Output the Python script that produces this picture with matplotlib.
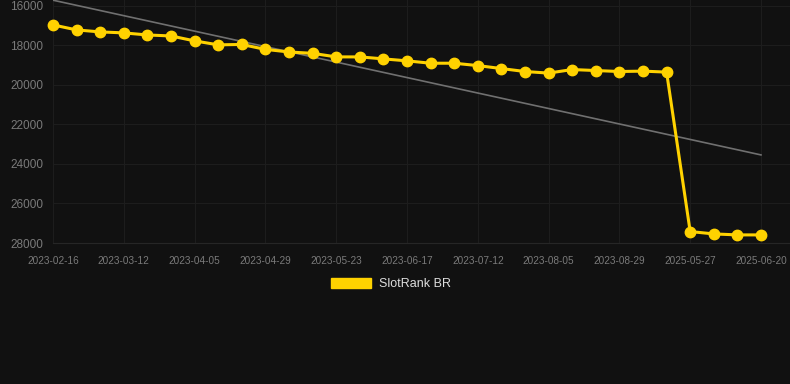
import numpy as np
from matplotlib import pyplot as plt
from matplotlib.patches import Patch

dates = ["2023-02-16", "2023-02-24", "2023-03-04", "2023-03-12", "2023-03-20", "2023-03-28",
         "2023-04-05", "2023-04-13", "2023-04-21", "2023-04-29", "2023-05-07", "2023-05-15",
         "2023-05-23", "2023-05-31", "2023-06-09", "2023-06-17", "2023-06-25", "2023-07-03",
         "2023-07-12", "2023-07-20", "2023-07-28", "2023-08-05", "2023-08-13", "2023-08-21",
         "2023-08-29", "2023-09-06", "2023-09-14", "2025-05-27", "2025-06-04", "2025-06-12",
         "2025-06-20"]
rank = [16960, 17215, 17315, 17365, 17470, 17520, 17770, 17970, 17950, 18200, 18330, 18400,
        18580, 18580, 18680, 18780, 18900, 18900, 19020, 19170, 19320, 19400, 19220, 19270,
        19320, 19300, 19350, 27420, 27540, 27590, 27590]
y_ticks = [16000, 18000, 20000, 22000, 24000, 26000, 28000]

bg = "#111111"
gold = "#FFD200"

plt.rcParams["font.family"] = ["Liberation Sans", "DejaVu Sans"]

fig = plt.figure(figsize=(7.9, 3.84), dpi=100, facecolor=bg)
ax = fig.add_axes([53 / 790, 1 - 243 / 384, 1 - 53 / 790, 243 / 384])
ax.set_facecolor(bg)

x = np.arange(len(rank))
# trend line (linear fit)
k, b = np.polyfit(x, rank, 1)
ax.plot(x, k * x + b, color="#707070", lw=1.2, zorder=2)
ax.plot(x, rank, color=gold, lw=2.2, marker="o", markersize=7.5, zorder=3, clip_on=False)

ax.set_xlim(0, 31.23)
ax.set_ylim(28000, 15700)
ax.set_yticks(y_ticks)
ax.set_xticks(x[::3])
ax.set_xticklabels(dates[::3])
ax.tick_params(colors="#7a7a7a", length=0)
ax.tick_params(axis="y", labelsize=8.5, pad=7)
ax.tick_params(axis="x", labelsize=7.2, pad=9)
ax.grid(True, color="#1d1d1d", lw=0.8)
for s in ["top", "right", "left"]:
    ax.spines[s].set_visible(False)
ax.spines["bottom"].set_color("#262626")

fig.legend(handles=[Patch(facecolor=gold, edgecolor=gold, label="SlotRank BR")],
           loc="center", bbox_to_anchor=(0.495, 1 - 284 / 384), frameon=False,
           fontsize=9, labelcolor="#dddddd", handlelength=3.2, handleheight=0.8,
           handletextpad=0.6)

fig.savefig("out.png", dpi=100, facecolor=bg)
